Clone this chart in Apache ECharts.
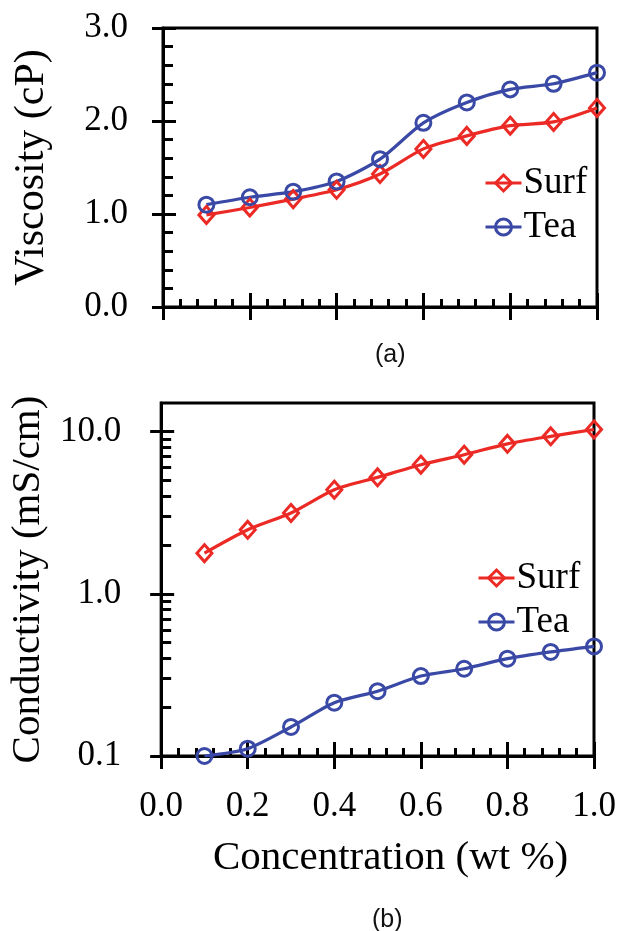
<!DOCTYPE html>
<html>
<head>
<meta charset="utf-8">
<script src="https://cdn.jsdelivr.net/npm/echarts@6/dist/echarts.min.js"></script>
<style>
  html, body { margin: 0; padding: 0; background: #fff; }
  #chart { width: 620px; height: 931px; }
</style>
</head>
<body>
<div id="chart"></div>
<script>
// concentration (wt %)
var conc = [0.1, 0.2, 0.3, 0.4, 0.5, 0.6, 0.7, 0.8, 0.9, 1.0];
// (a) viscosity, cP
var viscSurf = [0.99, 1.07, 1.16, 1.26, 1.43, 1.70, 1.84, 1.95, 1.99, 2.14];
var viscTea = [1.10, 1.18, 1.24, 1.35, 1.59, 1.98, 2.20, 2.34, 2.40, 2.52];
// (b) conductivity, mS/cm
var condSurf = [1.78, 2.48, 3.15, 4.38, 5.22, 6.25, 7.2, 8.4, 9.35, 10.3];
var condTea = [0.100, 0.111, 0.151, 0.213, 0.251, 0.311, 0.345, 0.398, 0.438, 0.474];
// log axis major ticks
var logTicks = [0.1, 1, 10];

var RED = '#ec2a25';
var BLUE = '#3a49a6';
var SERIF = '"Liberation Serif", "Times New Roman", serif';

function pairs(xs, ys) {
	var out = [];
	for (var i = 0; i < xs.length; i++) out.push([xs[i], ys[i]]);
	return out;
}

// minor ticks for the log axis: 2..9 of each decade
var logMinor = [];
for (var d = 0; d < logTicks.length - 1; d++) {
	for (var k = 2; k <= 9; k++) logMinor.push(+(k * logTicks[d]).toFixed(3));
}

var lineW = 3;
var axisLine = { show: true, onZero: false, lineStyle: { color: '#000', width: lineW } };
var noLine = { show: false, onZero: false };

function mkSeries(name, symbol, color, xi, yi, data) {
	return {
		name: name,
		type: 'line',
		xAxisIndex: xi,
		yAxisIndex: yi,
		data: data,
		symbol: symbol,
		symbolSize: symbol === 'diamond' ? [15, 17] : 15,
		showSymbol: true,
		smooth: 0.25,
		lineStyle: { color: color, width: 3.2 },
		itemStyle: { color: 'rgba(255,255,255,0)', borderColor: color, borderWidth: 3 },
		animation: false
	};
}

function xMain(gi, extra) {
	var a = {
		type: 'value', gridIndex: gi, min: 0, max: 1, interval: 0.2, position: 'bottom',
		axisLine: axisLine,
		axisTick: { show: true, inside: true, length: 14, lineStyle: { color: '#000', width: lineW } },
		minorTick: { show: true, splitNumber: 5, length: 8, lineStyle: { color: '#000', width: lineW } },
		axisLabel: { show: false },
		splitLine: { show: false }
	};
	for (var k in extra) a[k] = extra[k];
	return a;
}

function xOuter(gi, extra) {
	var a = {
		type: 'value', gridIndex: gi, min: 0, max: 1, interval: 0.2, position: 'bottom',
		axisLine: noLine,
		axisTick: { show: true, inside: false, length: 13, lineStyle: { color: '#000', width: lineW } },
		axisLabel: { show: false },
		splitLine: { show: false }
	};
	for (var k in extra) a[k] = extra[k];
	return a;
}

var legendText = { fontFamily: SERIF, fontSize: 37, color: '#000', lineHeight: 44, padding: [0, 0, 0, -3] };
var capText = { fontFamily: '"Liberation Sans", Arial, sans-serif', fontSize: 25, fontWeight: 'normal', color: '#111' };

var myChart = echarts.init(document.getElementById('chart'));

var option = {
	backgroundColor: '#fff',
	animation: false,
	title: [
		{ text: '(a)', left: 370, top: 338, textStyle: capText },
		{ text: '(b)', left: 367, top: 903, textStyle: capText }
	],
	grid: [
		{ left: 163, top: 28, right: 23, height: 279, show: true, borderColor: '#000', borderWidth: lineW, backgroundColor: 'transparent' },
		{ left: 160, top: 403, right: 26, height: 353, show: true, borderColor: '#000', borderWidth: lineW, backgroundColor: 'transparent' }
	],
	legend: [
		{
			data: ['Surf', 'Tea'], orient: 'vertical', left: 484, top: 161, padding: 0, itemGap: 0,
			itemWidth: 36, itemHeight: 20, selectedMode: false,
			lineStyle: { width: 3 }, itemStyle: { borderWidth: 3 },
			textStyle: legendText
		},
		{
			data: ['Surf', 'Tea'], orient: 'vertical', left: 477, top: 556, padding: 0, itemGap: 0,
			itemWidth: 36, itemHeight: 20, selectedMode: false,
			lineStyle: { width: 3 }, itemStyle: { borderWidth: 3 },
			textStyle: legendText
		}
	],
	xAxis: [
		xMain(0, {}),
		xOuter(0, {}),
		xMain(1, {}),
		xOuter(1, {
			axisLabel: {
				show: true, margin: 33, fontFamily: SERIF, fontSize: 35, color: '#000',
				formatter: function(v) { return v.toFixed(1); }
			},
			name: 'Concentration (wt %)',
			nameLocation: 'middle',
			nameGap: 82,
			nameTextStyle: { fontFamily: SERIF, fontSize: 41, color: '#000', padding: [0, 0, 0, 26] }
		})
	],
	yAxis: [
		{
			type: 'value', gridIndex: 0, min: 0, max: 3, interval: 1, position: 'left',
			axisLine: axisLine,
			axisTick: { show: true, inside: true, length: 13, lineStyle: { color: '#000', width: lineW } },
			minorTick: { show: true, splitNumber: 5, length: 10, lineStyle: { color: '#000', width: lineW } },
			axisLabel: {
				show: true, margin: 35, fontFamily: SERIF, fontSize: 35, color: '#000',
				formatter: function(v) { return v.toFixed(1); }
			},
			splitLine: { show: false },
			name: 'Viscosity (cP)',
			nameLocation: 'middle',
			nameGap: 110,
			nameTextStyle: { fontFamily: SERIF, fontSize: 42, color: '#000' }
		},
		{
			type: 'value', gridIndex: 0, min: 0, max: 3, interval: 1, position: 'left',
			axisLine: noLine,
			axisTick: { show: true, inside: false, length: 11, lineStyle: { color: '#000', width: lineW } },
			axisLabel: { show: false },
			splitLine: { show: false }
		},
		{
			type: 'log', logBase: 10, gridIndex: 1, min: 0.1, max: 15, position: 'left',
			axisLine: axisLine,
			axisTick: { show: true, inside: true, length: 13, customValues: logTicks, lineStyle: { color: '#000', width: lineW } },
			axisLabel: {
				show: true, margin: 40, fontFamily: SERIF, fontSize: 35, color: '#000',
				customValues: logTicks,
				formatter: function(v) { return (+v).toFixed(1); }
			},
			splitLine: { show: false },
			name: 'Conductivity (mS/cm)',
			nameLocation: 'middle',
			nameGap: 109,
			nameTextStyle: { fontFamily: SERIF, fontSize: 41, color: '#000' }
		},
		{
			type: 'log', logBase: 10, gridIndex: 1, min: 0.1, max: 15, position: 'left',
			axisLine: noLine,
			axisTick: { show: true, inside: false, length: 11, customValues: logTicks, lineStyle: { color: '#000', width: lineW } },
			axisLabel: { show: false },
			splitLine: { show: false }
		},
		{
			type: 'log', logBase: 10, gridIndex: 1, min: 0.1, max: 15, position: 'left',
			axisLine: noLine,
			axisTick: { show: true, inside: true, length: 10, customValues: logMinor, lineStyle: { color: '#000', width: lineW } },
			axisLabel: { show: false },
			splitLine: { show: false }
		}
	],
	series: [
		mkSeries('Surf', 'diamond', RED, 0, 0, pairs(conc, viscSurf)),
		mkSeries('Tea', 'circle', BLUE, 0, 0, pairs(conc, viscTea)),
		mkSeries('Surf', 'diamond', RED, 2, 2, pairs(conc, condSurf)),
		mkSeries('Tea', 'circle', BLUE, 2, 2, pairs(conc, condTea))
	]
};

myChart.setOption(option);
</script>
</body>
</html>
